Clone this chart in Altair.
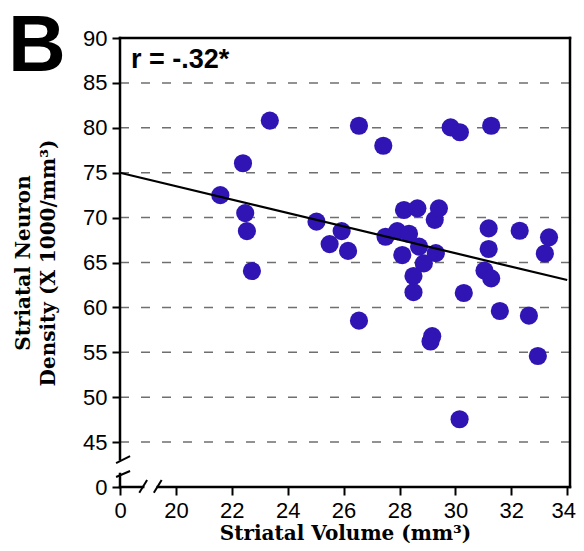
import altair as alt
import pandas as pd

# ---- data ----
volume = [21.59, 22.40, 22.48, 22.54, 22.72, 23.36, 25.03, 25.50, 25.93, 26.16,
          26.55, 26.55, 27.42, 27.50, 27.92, 28.16, 28.34, 28.10, 28.64, 28.70,
          28.87, 28.50, 28.50, 29.26, 29.41, 29.30, 29.17, 29.11, 29.83, 30.16,
          30.30, 30.15, 31.28, 31.19, 31.19, 31.04, 31.28, 31.59, 32.30, 32.63,
          32.95, 33.35, 33.20]
density = [72.5, 76.05, 70.5, 68.5, 64.05, 80.8, 69.55, 67.05, 68.5, 66.3,
           80.23, 58.52, 78.0, 67.87, 68.5, 70.85, 68.2, 65.83, 71.03, 66.76,
           64.9, 63.5, 61.7, 69.75, 71.03, 66.05, 56.8, 56.2, 80.05, 79.5,
           61.6, 47.54, 80.23, 68.8, 66.5, 64.1, 63.24, 59.6, 68.54, 59.08,
           54.59, 67.8, 66.0]

fit_x = [18.0, 34.0]
fit_y = [75.0, 63.05]

grid_values = [45, 50, 55, 60, 65, 70, 75, 80, 85]
x_ticks = [18, 20, 22, 24, 26, 28, 30, 32, 34]   # 18 is shown as the broken-axis "0"
y_ticks = [40, 45, 50, 55, 60, 65, 70, 75, 80, 85, 90]  # 40 is shown as the broken-axis "0"

x_domain = [18, 34.1]
y_domain = [40, 90]

# frame segments (data units)
frame_x = [18, 18, 18, 19.35, 18, 34.1]
frame_x2 = [18, 18, 18.83, 34.1, 34.1, 34.1]
frame_y = [43.1, 40, 40, 40, 90, 40]
frame_y2 = [90, 41.45, 40, 40, 90, 90]

# axis-break slashes (data units)
slash_x = [17.86, 17.86, 18.69, 19.21]
slash_x2 = [18.36, 18.36, 18.97, 19.49]
slash_y = [42.67, 41.11, 39.37, 39.37]
slash_y2 = [43.45, 41.78, 40.78, 40.78]

points = pd.DataFrame({"volume": volume, "density": density})
fit = pd.DataFrame({"volume": fit_x, "density": fit_y})
grid = pd.DataFrame({"density": grid_values})
frame = pd.DataFrame({"volume": frame_x, "x2": frame_x2, "density": frame_y, "y2": frame_y2})
slashes = pd.DataFrame({"volume": slash_x, "x2": slash_x2, "density": slash_y, "y2": slash_y2})

xs = alt.Scale(domain=x_domain, nice=False, zero=False)
ys = alt.Scale(domain=y_domain, nice=False, zero=False)

x_axis = alt.Axis(
    values=x_ticks, labelExpr="datum.value == 18 ? '0' : datum.label",
    domain=False, grid=False, ticks=True, tickSize=8, tickWidth=2, tickColor="black",
    labelFont="Liberation Sans", labelFontSize=22, labelColor="black", labelPadding=5,
    labelFlush=False, labelOverlap=False,
    labelOffset=alt.condition("datum.value == 34", alt.value(-4), alt.value(0)),
    title="Striatal Volume (mm³)", titleFont="DejaVu Serif", titleFontWeight="bold",
    titleFontSize=20, titleColor="black", titleY=52, titleBaseline="alphabetic",
)
y_axis = alt.Axis(
    values=y_ticks, labelExpr="datum.value == 40 ? '0' : datum.label",
    domain=False, grid=False, ticks=True, tickSize=8, tickWidth=2, tickColor="black",
    labelFont="Liberation Sans", labelFontSize=22, labelColor="black", labelPadding=5,
    labelFlush=False, labelOverlap=False,
    title=["Striatal Neuron", "Density (X 1000/mm³)"], titleFont="DejaVu Serif",
    titleFontWeight="bold", titleFontSize=20, titleColor="black",
    titleX=-91, titleY=224.5, titleAngle=270, titleAlign="center",
    titleBaseline="alphabetic", titleLineHeight=25,
)

X = alt.X("volume:Q", scale=xs, axis=x_axis)
Y = alt.Y("density:Q", scale=ys, axis=y_axis)

grid_layer = alt.Chart(grid).mark_rule(color="#6f6f6f", strokeWidth=1.5, strokeDash=[9, 12]).encode(
    y=Y
)

pts = alt.Chart(points).mark_circle(size=330, color="#3015b4", opacity=1).encode(x=X, y=Y)

fit_layer = alt.Chart(fit).mark_line(color="black", strokeWidth=2.2).encode(x=X, y=Y)

frame_layer = alt.Chart(frame).mark_rule(color="black", strokeWidth=2.5, strokeCap="square").encode(
    x=X, x2="x2:Q", y=Y, y2="y2:Q",
)

slash_layer = alt.Chart(slashes).mark_rule(color="black", strokeWidth=2).encode(
    x=X, x2="x2:Q", y=Y, y2="y2:Q",
)

r_text = alt.Chart(pd.DataFrame({"t": ["r = -.32*"]})).mark_text(
    font="Liberation Sans", fontSize=27, fontWeight="bold", color="black",
    align="left", baseline="alphabetic",
).encode(x=alt.value(11), y=alt.value(30), text="t:N")

b_text = alt.Chart(pd.DataFrame({"t": ["B"]})).mark_text(
    font="Liberation Sans", fontSize=80, fontWeight="bold", color="black",
    align="left", baseline="top",
).encode(x=alt.value(-112), y=alt.value(-30), text="t:N")

chart = alt.layer(
    grid_layer, pts, fit_layer, frame_layer, slash_layer, r_text, b_text
).properties(
    width=450, height=449,
    autosize=alt.AutoSizeParams(type="none"),
    padding={"left": 112, "top": 30, "right": 6, "bottom": 56},
    background="white",
).configure_view(stroke=None)

chart.save("out.html", embed_options={"renderer": "svg", "actions": False})
